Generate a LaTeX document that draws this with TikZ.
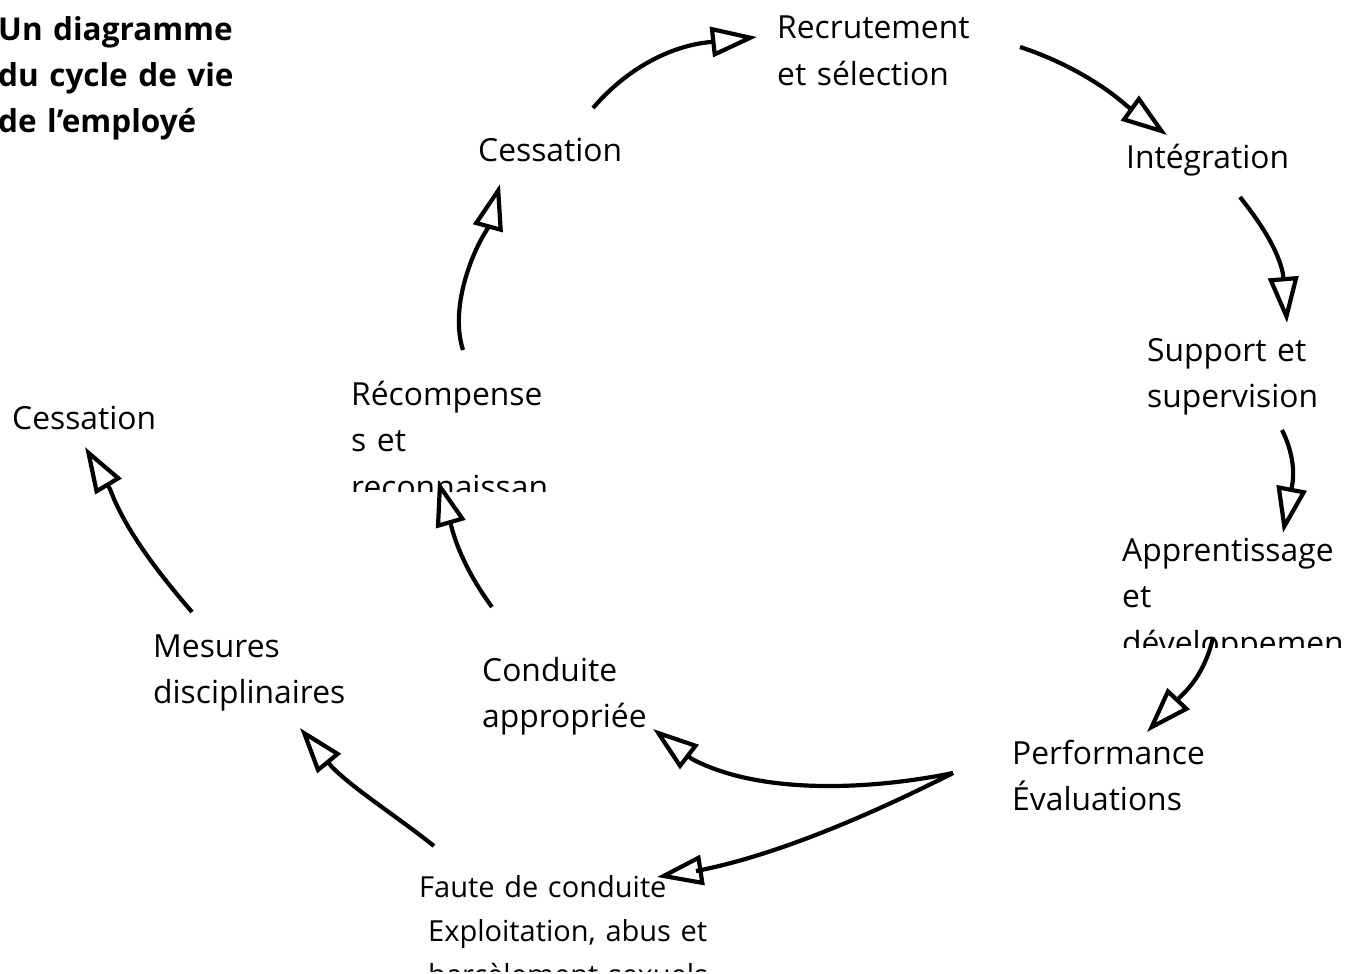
\documentclass[tikz,border=0pt]{standalone}
\usepackage{fontspec}
\setmainfont{Open Sans}
\usetikzlibrary{arrows.meta}
\begin{document}
\begin{tikzpicture}[x=1pt,y=-1pt,
  lbl/.style={anchor=base west, inner sep=0pt, text width=420pt, align=left,
    font=\fontsize{31.8}{46.5}\selectfont},
  ttl/.style={lbl, font=\fontsize{31.5}{46}\selectfont\bfseries},
  small/.style={lbl, font=\fontsize{29}{44}\selectfont},
  flow/.style={line width=4.2pt, -{Triangle[open, length=46pt, width=30pt]}}]
\useasboundingbox (0,0) rectangle (1354,974);
\fill[white] (0,0) rectangle (1354,974);

% title
\node[ttl] (title) at (-2,41) {Un diagramme\\du cycle de vie\\de l’employé};

% labels
\node[lbl] (recr) at (777,39) {Recrutement\\et sélection};
\node[lbl] (integ) at (1126,168) {Intégration};
\node[lbl] (supp) at (1147,361) {Support et\\supervision};
\begin{scope}
  \clip (1100,510) rectangle (1341,647);
  \node[lbl] (appr) at (1122,561) {Apprentissage\\et\\développement};
\end{scope}
\node[lbl] (perf) at (1012,764) {Performance\\Évaluations};
\begin{scope}
  \clip (400,855) rectangle (740,971);
  \node[small] (faute) at (419,897) {Faute de conduite\\\hspace*{9pt}Exploitation, abus et\\\hspace*{9pt}harcèlement sexuels};
\end{scope}
\node[lbl] (mes) at (153,657) {Mesures\\disciplinaires};
\node[lbl] (cond) at (482,681) {Conduite\\appropriée};
\node[lbl] (cessL) at (12,429) {Cessation};
\begin{scope}
  \clip (340,370) rectangle (546,491);
  \node[lbl] (recomp) at (351,405) {Récompense\\s et\\reconnaissance};
\end{scope}
\node[lbl] (cessT) at (478,161) {Cessation};

% arrow anchor coordinates
\coordinate (a1s) at (593,108); \coordinate (a1b) at (711,42);  \coordinate (a1t) at (757,37);
\coordinate (a2s) at (1020,47); \coordinate (a2b) at (1127,106); \coordinate (a2t) at (1167,135);
\coordinate (a3s) at (1240,197); \coordinate (a3b) at (1283,274); \coordinate (a3t) at (1287,323);
\coordinate (a4s) at (1282,430); \coordinate (a4b) at (1292,486); \coordinate (a4t) at (1283,533);
\coordinate (a5s) at (1213,637); \coordinate (a5b) at (1182,695); \coordinate (a5t) at (1147,732);
\coordinate (a6s) at (953,773);  \coordinate (a6b) at (692,759);  \coordinate (a6t) at (653,729);
\coordinate (a7b) at (696,871);  \coordinate (a7t) at (657,877);
\coordinate (a8s) at (434,846);  \coordinate (a8b) at (332,767);  \coordinate (a8t) at (300,728);
\coordinate (a9s) at (192,612);  \coordinate (a9b) at (110,489);  \coordinate (a9t) at (85,447);
\coordinate (a10s) at (492,607); \coordinate (a10b) at (451,525); \coordinate (a10t) at (438,480);
\coordinate (a11s) at (463,350); \coordinate (a11b) at (488,228); \coordinate (a11t) at (500,184);

\draw[flow] (a1s) .. controls (630,65) and (675,45) .. (a1b) -- (a1t);
\draw[flow] (a2s) .. controls (1060,60) and (1100,82) .. (a2b) -- (a2t);
\draw[flow] (a3s) .. controls (1262,225) and (1278,250) .. (a3b) -- (a3t);
\draw[flow] (a4s) .. controls (1292,450) and (1295,470) .. (a4b) -- (a4t);
\draw[flow] (a5s) .. controls (1208,662) and (1195,683) .. (a5b) -- (a5t);
\draw[flow] (a6s) .. controls (870,790) and (760,795) .. (a6b) -- (a6t);
\draw[flow] (a6s) .. controls (880,810) and (780,855) .. (a7b) -- (a7t);
\draw[flow] (a8s) .. controls (395,815) and (355,790) .. (a8b) -- (a8t);
\draw[flow] (a9s) .. controls (160,575) and (125,530) .. (a9b) -- (a9t);
\draw[flow] (a10s) .. controls (472,580) and (457,550) .. (a10b) -- (a10t);
\draw[flow] (a11s) .. controls (450,310) and (470,255) .. (a11b) -- (a11t);
\end{tikzpicture}
\end{document}
